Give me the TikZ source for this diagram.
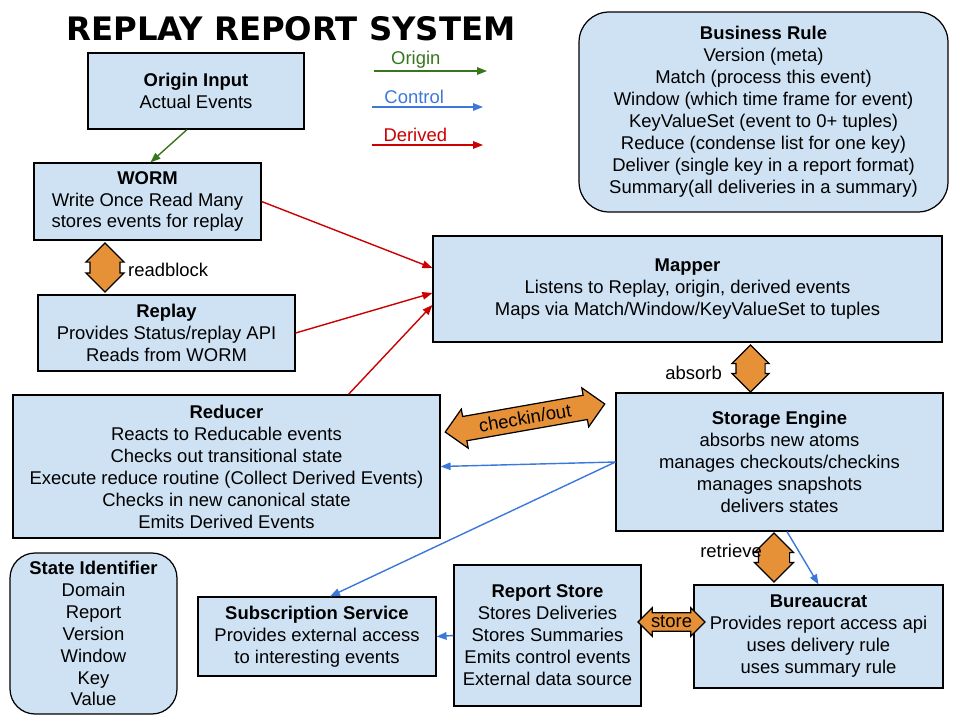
\documentclass[tikz,border=0pt]{standalone}
\usepackage{fontspec}
\setmainfont{Liberation Sans}
\newfontfamily\titlefont{DejaVu Sans}
\usepackage{tikz}
\usetikzlibrary{arrows.meta,shapes.arrows,positioning}
\definecolor{boxblue}{HTML}{CFE2F3}
\definecolor{fatorange}{HTML}{E69138}
\definecolor{origingreen}{HTML}{38761D}
\definecolor{controlblue}{HTML}{3C78D8}
\definecolor{derivedred}{HTML}{CC0000}

\begin{document}
\begin{tikzpicture}[x=0.02cm,y=-0.02cm,
    every node/.style={font=\fontsize{10.5}{12.5}\selectfont},
    box/.style={draw,fill=boxblue,line width=0.7pt,align=center,inner sep=2pt},
    fatarrow/.style={double arrow,draw,fill=fatorange,line width=0.7pt,
      double arrow head extend=0.08cm,inner xsep=0pt},
    originline/.style={-{Triangle[length=0.2cm,width=0.15cm]},line width=0.8pt,origingreen},
    controlline/.style={-{Triangle[length=0.2cm,width=0.15cm]},line width=0.8pt,controlblue},
    derivedline/.style={-{Triangle[length=0.2cm,width=0.15cm]},line width=0.8pt,derivedred}]
    \useasboundingbox (0,0) rectangle (960,720);
    \node (title) at (291,29) {\titlefont\fontsize{18.4}{21}\selectfont\bfseries REPLAY REPORT SYSTEM};

    % legend
    \coordinate (og1) at (374,71);
    \coordinate (og2) at (487,71);
    \coordinate (ct1) at (372,107);
    \coordinate (ct2) at (483,107);
    \coordinate (dv1) at (372,145);
    \coordinate (dv2) at (483,145);
    \draw[originline] (og1) -- (og2) node[pos=0.37,above,yshift=-2pt,origingreen] (originlbl) {Origin};
    \draw[controlline] (ct1) -- (ct2) node[pos=0.38,above,yshift=-2pt,controlblue] (controllbl) {Control};
    \draw[derivedline] (dv1) -- (dv2) node[pos=0.39,above,yshift=-2pt,derivedred] (derivedlbl) {Derived};

    % boxes
    \node[box,minimum width=4.32cm,minimum height=1.52cm] (origin) at (196,91)
      {\textbf{Origin Input}\\Actual Events};
    \node[box,minimum width=4.54cm,minimum height=1.54cm] (worm) at (147.5,201.5)
      {\textbf{WORM}\\Write Once Read Many\\stores events for replay};
    \node[box,minimum width=5.14cm,minimum height=1.52cm] (replay) at (166.5,333)
      {\textbf{Replay}\\Provides Status/replay API\\Reads from WORM};
    \node[box,minimum width=8.54cm,minimum height=2.86cm] (reducer) at (226.5,466.5)
      {\textbf{Reducer}\\Reacts to Reducable events\\Checks out transitional state\\
       Execute reduce routine (Collect Derived Events)\\Checks in new canonical state\\Emits Derived Events};
    \node[box,rounded corners=0.5cm,minimum width=3.34cm,minimum height=3.22cm] (stateid) at (93.5,633.5)
      {\textbf{State Identifier}\\Domain\\Report\\Version\\Window\\Key\\Value};
    \node[box,minimum width=4.76cm,minimum height=1.58cm] (subscr) at (317,636.5)
      {\textbf{Subscription Service}\\Provides external access\\to interesting events};
    \node[box,minimum width=3.74cm,minimum height=2.82cm] (reportstore) at (547.5,635.5)
      {\textbf{Report Store}\\Stores Deliveries\\Stores Summaries\\Emits control events\\External data source};
    \node[box,minimum width=4.98cm,minimum height=2.06cm] (bureaucrat) at (818.5,636.5)
      {\textbf{Bureaucrat}\\Provides report access api\\uses delivery rule\\uses summary rule};
    \node[box,minimum width=6.54cm,minimum height=2.76cm] (storage) at (779.5,462)
      {\textbf{Storage Engine}\\absorbs new atoms\\manages checkouts/checkins\\manages snapshots\\delivers states};
    \node[box,minimum width=10.18cm,minimum height=2.12cm] (mapper) at (687.5,289)
      {\textbf{Mapper}\\Listens to Replay, origin, derived events\\Maps via Match/Window/KeyValueSet to tuples};
    \node[box,rounded corners=0.6cm,minimum width=7.38cm,minimum height=4cm] (rule) at (763.5,112)
      {\textbf{Business Rule}\\Version (meta)\\Match (process this event)\\Window (which time frame for event)\\
       KeyValueSet (event to 0+ tuples)\\Reduce (condense list for one key)\\
       Deliver (single key in a report format)\\Summary(all deliveries in a summary)};

    % fat double arrows
    \node[fatarrow,rotate=90,minimum height=0.98cm,inner ysep=0.29cm] (readblock) at (105,267.5) {};
    \node[anchor=west] (readlbl) at (122,270) {readblock};
    \node[fatarrow,rotate=90,minimum height=0.94cm,inner ysep=0.28cm] (absorb) at (750.5,368.5) {};
    \node[anchor=east] (absorblbl) at (728,373) {absorb};
    \node[fatarrow,rotate=90,minimum height=0.98cm,inner ysep=0.3cm] (retrieve) at (774,557.5) {};
    \node[anchor=east] (retrievelbl) at (768,551) {retrieve};
    \node[fatarrow,rotate=10,minimum height=3.24cm,inner ysep=2.8pt,
      double arrow head extend=0.15cm] (checkin) at (525,418) {checkin/out};
    \node[fatarrow,minimum height=1.34cm,inner ysep=1.5pt,
      double arrow head extend=0.1cm] (store) at (671.5,622) {store};

    % connectors
    \draw[originline] ([xshift=-0.18cm]origin.south) -- ([xshift=0.06cm]worm.north);
    \draw[derivedline] (worm.east) -- ([yshift=0.42cm]mapper.west);
    \draw[derivedline] (replay.east) -- ([yshift=-0.08cm]mapper.west);
    \draw[derivedline] ([xshift=2.44cm]reducer.north) -- ([yshift=-0.32cm]mapper.west);
    \draw[controlline] (storage.west) -- (reducer.east);
    \draw[controlline] (storage.west) -- ([xshift=0.26cm]subscr.north);
    \draw[controlline] ([xshift=0.15cm]storage.south) -- (bureaucrat.north);
    \draw[controlline] (reportstore.west) -- (subscr.east);
  \end{tikzpicture}
\end{document}
